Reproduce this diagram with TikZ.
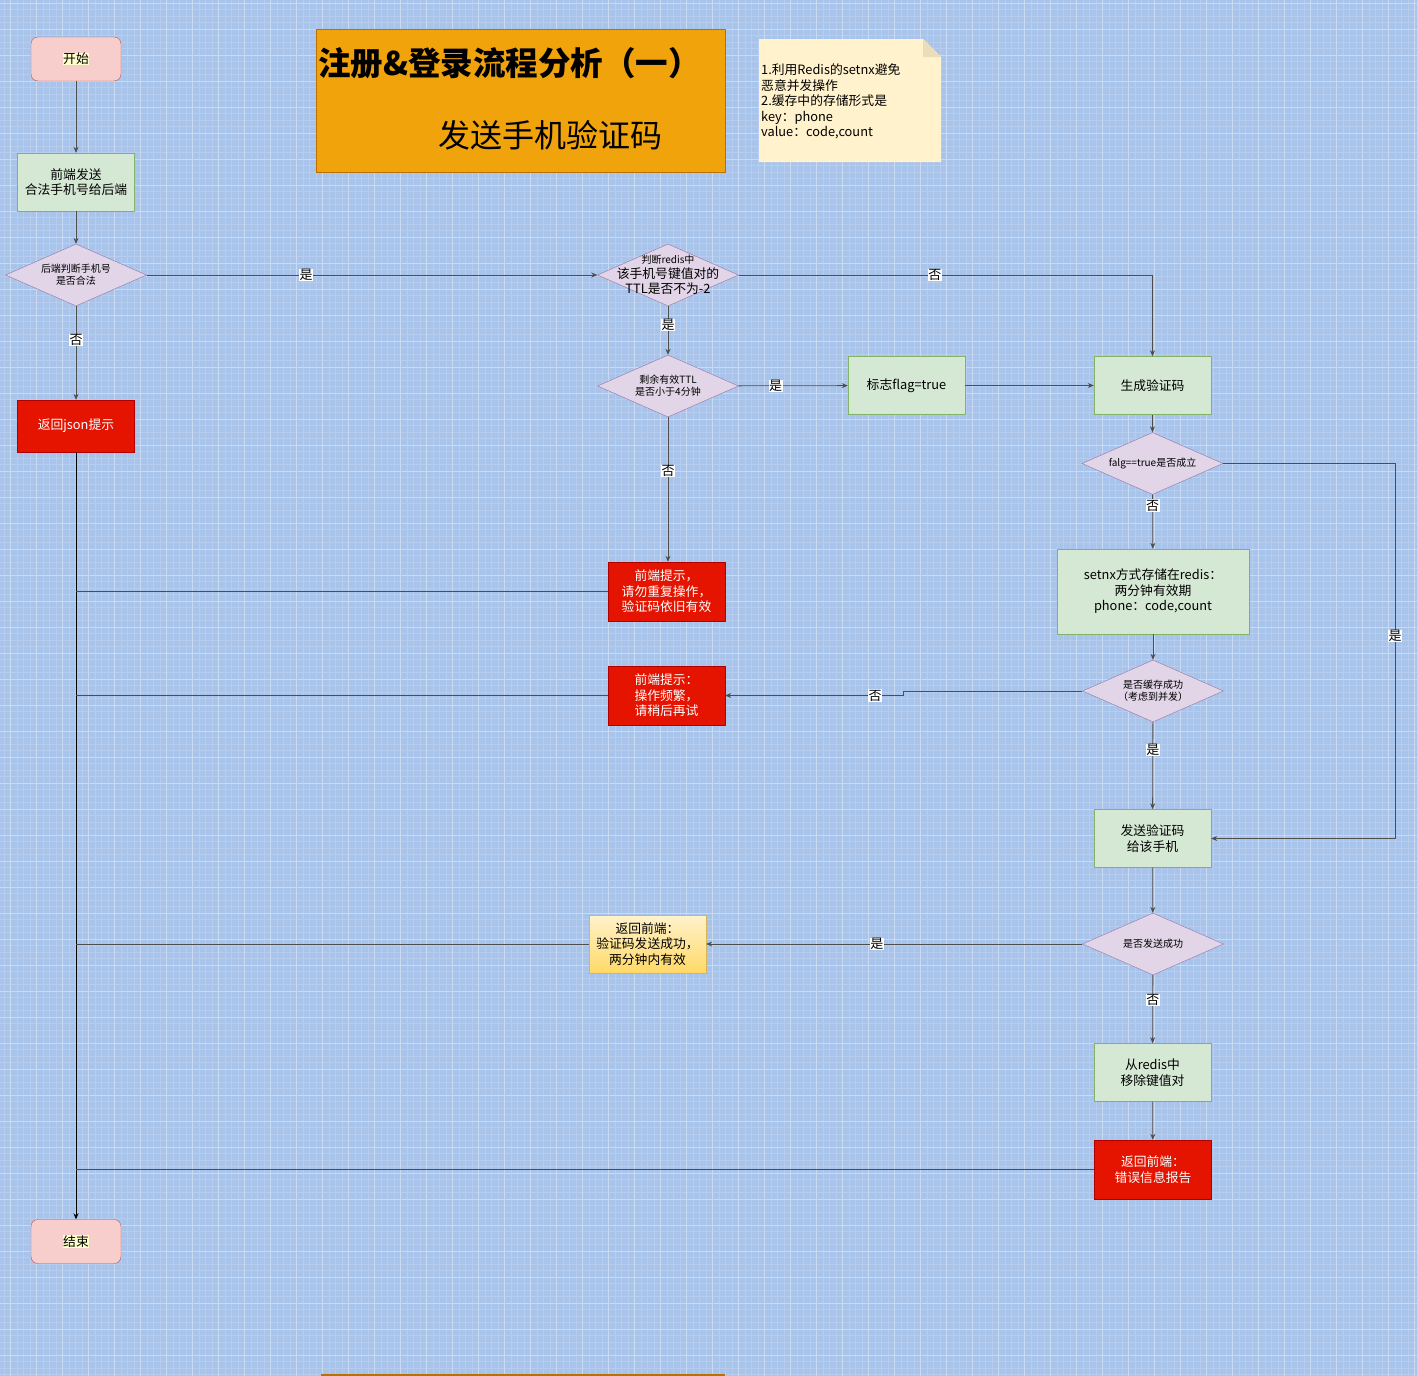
\documentclass[tikz,border=0pt]{standalone}
\usepackage{fontspec}
\setmainfont{Noto Sans CJK SC}
\usetikzlibrary{arrows.meta,shapes.geometric}
\definecolor{bg}{HTML}{A9C4EB}
\definecolor{gridmin}{HTML}{B6CDEF}
\definecolor{gridmaj}{HTML}{CADAF3}
\definecolor{pinkf}{HTML}{F8CECC}\definecolor{pinkd}{HTML}{B85450}
\definecolor{greenf}{HTML}{D5E8D4}\definecolor{greend}{HTML}{82B366}
\definecolor{purf}{HTML}{E1D5E7}\definecolor{purd}{HTML}{9673A6}
\definecolor{redf}{HTML}{E51400}\definecolor{redd}{HTML}{B20000}
\definecolor{orf}{HTML}{F0A30A}\definecolor{ord}{HTML}{BD7000}
\definecolor{notef}{HTML}{FFF2CC}\definecolor{notefold}{HTML}{E9DDBC}
\definecolor{yelb}{HTML}{FFD966}\definecolor{yeld}{HTML}{D6B656}
\definecolor{hl}{HTML}{FFFFCC}
\definecolor{edge}{HTML}{4D4D4D}
\setlength{\fboxsep}{0.5pt}
\begin{document}
\begin{tikzpicture}[x=1pt,y=-1pt,>={Stealth[length=6pt,width=5pt]},font=\fontsize{12.8}{15.5}\selectfont,
  term/.style={rectangle,rounded corners=7pt,draw=pinkd,fill=pinkf,minimum width=90pt,minimum height=44pt},
  proc/.style={rectangle,draw=greend,fill=greenf,minimum width=117pt,minimum height=58pt,align=center,inner sep=1pt},
  warn/.style={rectangle,draw=redd,fill=redf,text=white,minimum width=117pt,minimum height=59pt,align=center,inner sep=1pt},
  okbox/.style={rectangle,draw=yeld,top color=notef,bottom color=yelb,minimum width=117pt,minimum height=58pt,align=center,inner sep=1pt},
  dia/.style={diamond,draw=purd,fill=purf,minimum width=141pt,minimum height=62pt,inner sep=0pt},
  dlab/.style={align=center,font=\fontsize{10}{12}\selectfont,inner sep=0pt},
  yn/.style={fill=white,inner sep=0.5pt,font=\fontsize{13}{13}\selectfont},
  conn/.style={draw=edge,line width=0.8pt}]
\useasboundingbox (0,0) rectangle (1417,1376);
% background grid
\fill[bg] (0,0) rectangle (1417,1376);
\foreach \i in {0,...,217} \draw[gridmin,line width=0.5pt] ({3.8+6.5*\i},0) -- ({3.8+6.5*\i},1376);
\foreach \j in {0,...,211} \draw[gridmin,line width=0.5pt] (0,{3+6.5*\j}) -- (1417,{3+6.5*\j});
\foreach \i in {0,...,54} \draw[gridmaj,line width=1pt] ({10.3+26*\i},0) -- ({10.3+26*\i},1376);
\foreach \j in {0,...,52} \draw[gridmaj,line width=1pt] (0,{3+26*\j}) -- (1417,{3+26*\j});
\fill[ord] (321,1374) rectangle (725,1376);

% title and note
\node[rectangle,draw=ord,fill=orf,minimum width=409pt,minimum height=143pt] (title) at (520.5,100.5) {};
\node[anchor=west,inner sep=0pt,font=\fontsize{32.5}{36}\selectfont\bfseries] (tl1) at (318,63) {注册\&登录流程分析（一）};
\node[inner sep=0pt,font=\fontsize{32}{36}\selectfont] (tl2) at (550,135) {发送手机验证码};
\fill[notef] (759,39) -- (923,39) -- (941,57) -- (941,162) -- (759,162) -- cycle;
\fill[notefold] (923,39) -- (923,57) -- (941,57) -- cycle;
\node[anchor=west,align=left,inner sep=0pt] (note) at (761,101.5) {1.利用Redis的setnx避免\\恶意并发操作\\2.缓存中的存储形式是\\key：phone\\value：code,count};

% left column
\node[term] (start) at (76,59) {\colorbox{hl}{开始}};
\node[proc] (front) at (76,182) {前端发送\\合法手机号给后端};
\node[dia,label={[dlab]center:{后端判断手机号\\是否合法}}] (d1) at (76,275) {};
\node[warn,minimum height=52pt] (jsn) at (76,426) {返回json提示};
\node[term] (end) at (76,1241.5) {\colorbox{hl}{结束}};

% middle column
\node[dia,label={[dlab,font=\fontsize{12.8}{15}\selectfont]center:{{\fontsize{10}{12}\selectfont 判断redis中}\\该手机号键值对的\\TTL是否不为-2}}] (d2) at (668,275) {};
\node[dia,label={[dlab]center:{剩余有效TTL\\是否小于4分钟}}] (d3) at (668,386) {};
\node[proc] (flag) at (906.5,385.5) {标志flag=true};
\node[warn] (warn1) at (666.5,591.5) {前端提示，\\请勿重复操作，\\验证码依旧有效};
\node[warn] (warn2) at (666.5,695.5) {前端提示：\\操作频繁，\\请稍后再试};
\node[okbox] (ok) at (647.5,944) {返回前端：\\验证码发送成功，\\两分钟内有效};

% right column
\node[proc] (gen) at (1152.5,385.5) {生成验证码};
\node[dia,label={[dlab]center:{falg==true是否成立}}] (d4) at (1152.5,463.5) {};
\node[proc,minimum width=192pt,minimum height=85pt] (setnx) at (1153,591.5) {setnx方式存储在redis：\\两分钟有效期\\phone：code,count};
\node[dia,label={[dlab]center:{是否缓存成功\\（考虑到并发）}}] (d5) at (1153,691) {};
\node[proc] (send) at (1152.5,838.5) {发送验证码\\给该手机};
\node[dia,label={[dlab]center:{是否发送成功}}] (d6) at (1153,944) {};
\node[proc] (remove) at (1152.5,1072.5) {从redis中\\移除键值对};
\node[warn] (err) at (1153,1169.5) {返回前端：\\错误信息报告};

% connectors
\draw[conn,->] (start) -- (front);
\draw[conn,->] (front) -- (d1);
\draw[conn,->] (d1) -- node[yn,pos=.354]{是} (d2);
\draw[conn,->] (d1) -- node[yn,pos=.36]{否} (jsn);
\draw[->,line width=0.8pt] (jsn) -- (end);
\draw[conn,->] (d2) -| node[yn,pos=.237]{否} (gen);
\draw[conn,->] (d2) -- node[yn,pos=.39]{是} (d3);
\draw[conn,->] (d3) -- node[yn,pos=.34]{是} (flag);
\draw[conn,->] (d3.south) -- node[yn,pos=.37]{否} (d3.south |- warn1.north);
\draw[conn,->] (flag) -- (gen);
\draw[conn,->] (gen) -- (d4);
\draw[conn,->] (d4) -- node[yn,pos=.2]{否} (setnx);
\draw[conn,->] (d4.east) -- ++(172,0) |- node[yn,pos=.23]{是} (send.east);
\draw[conn,->] (setnx) -- (d5);
\draw[conn,->] (d5.west) -- ++(-178.5,0) -- ++(0,4.5) -- node[yn,pos=.16]{否} (warn2.east);
\draw[conn,->] (d5) -- node[yn,pos=.32]{是} (send);
\draw[conn,->] (send) -- (d6);
\draw[conn,->] (d6) -- node[yn,pos=.546]{是} (ok);
\draw[conn,->] (d6) -- node[yn,pos=.37]{否} (remove);
\draw[conn,->] (remove) -- (err);
\draw[conn] (warn1) -- (warn1 -| jsn);
\draw[conn] (warn2) -- (warn2 -| jsn);
\draw[conn] (ok) -- (ok -| jsn);
\draw[conn] (err) -- (err -| jsn);
\end{tikzpicture}
\end{document}
